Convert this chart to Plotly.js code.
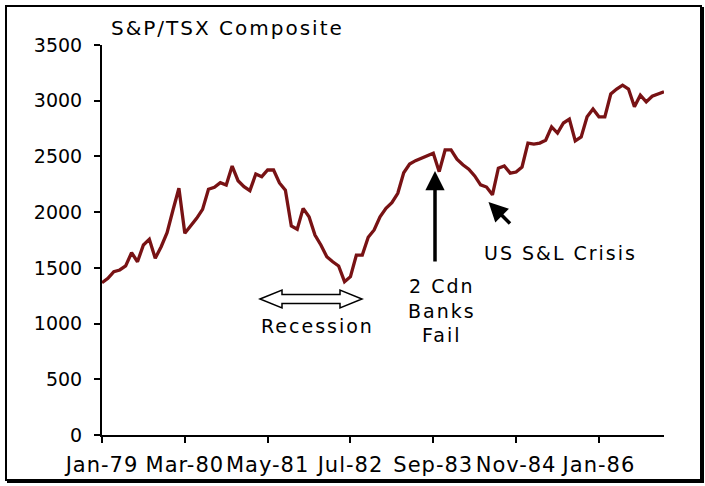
<!DOCTYPE html>
<html>
<head>
<meta charset="utf-8">
<script src="https://cdn.plot.ly/plotly-3.0.1.min.js"></script>
<style>
  html, body { margin: 0; padding: 0; background: #fff; }
  #wrap { position: relative; width: 705px; height: 486px; }
  #chart { width: 705px; height: 486px; }
  #frame { position: absolute; left: 5px; top: 5px; width: 693px; height: 472px;
           border: 2px solid #000; box-shadow: 2px 2px 0 #000; pointer-events: none; }
  .annotation-text { letter-spacing: 2px; }
  .xtick text { letter-spacing: 1px; }
</style>
</head>
<body>
<div id="wrap">
  <div id="chart"></div>
  <div id="frame"></div>
</div>
<script>
// Monthly S&P/TSX Composite, Jan-79 .. Dec-86
const tsxValues = [
  1367,1406,1466,1481,1517,1636,1555,1705,1756,1586,1690,1816,
  2019,2214,1810,1876,1944,2025,2205,2223,2265,2244,2414,2282,
  2229,2193,2342,2318,2378,2378,2262,2196,1876,1846,2034,1959,
  1795,1705,1600,1555,1517,1376,1421,1615,1615,1774,1840,1959,
  2034,2085,2169,2354,2432,2462,2483,2504,2528,2363,2558,2558,
  2475,2425,2385,2325,2245,2225,2155,2395,2415,2350,2360,2405,
  2620,2610,2620,2645,2765,2710,2800,2835,2640,2675,2855,2925,
  2855,2855,3060,3105,3140,3105,2945,3050,2990,3040,3060,3080
];
const tickPositions = [0, 14, 28, 42, 56, 70, 84];
const tickLabels = ["Jan-79", "Mar-80", "May-81", "Jul-82", "Sep-83", "Nov-84", "Jan-86"];
const yTicks = [0, 500, 1000, 1500, 2000, 2500, 3000, 3500];

const monthIndex = tsxValues.map((_, i) => i);

// plot-area geometry (pixels) for placing annotations
const W = 705, H = 486;
const M = { l: 102, r: 41, t: 45, b: 51 };
const PW = W - M.l - M.r, PH = H - M.t - M.b;
const px = x => (x - M.l) / PW;
const py = y => (H - M.b - y) / PH;

const font = 'DejaVu Sans, Verdana, sans-serif';

const trace = {
  x: monthIndex,
  y: tsxValues,
  type: 'scatter',
  mode: 'lines',
  line: { color: '#781214', width: 3.3 },
  hoverinfo: 'skip'
};

// hollow double-headed arrow (Recession)
const cy = 299;
const pts = [[260, cy], [282, cy - 9], [282, cy - 4.5], [340, cy - 4.5], [340, cy - 9], [362, cy],
             [340, cy + 9], [340, cy + 4.5], [282, cy + 4.5], [282, cy + 9]];
const path = 'M' + pts.map(p => px(p[0]) + ',' + py(p[1])).join('L') + 'Z';

const layout = {
  width: W, height: H,
  margin: M,
  paper_bgcolor: '#fff', plot_bgcolor: '#fff',
  showlegend: false,
  font: { family: font, size: 19, color: '#000' },
  xaxis: {
    range: [0, 95],
    tickvals: tickPositions, ticktext: tickLabels,
    showline: true, linecolor: '#000', linewidth: 2,
    ticks: 'outside', ticklen: 6, tickwidth: 2, tickcolor: '#000',
    ticklabelstandoff: 4,
    showgrid: false, zeroline: false, fixedrange: true,
    tickfont: { family: font, size: 21, color: '#000' }
  },
  yaxis: {
    range: [0, 3500],
    tickvals: yTicks,
    showline: true, linecolor: '#000', linewidth: 2,
    ticks: 'outside', ticklen: 6, tickwidth: 2, tickcolor: '#000',
    ticklabelstandoff: 8,
    showgrid: false, zeroline: false, fixedrange: true,
    tickfont: { family: font, size: 19, color: '#000' }
  },
  shapes: [
    { type: 'path', xref: 'paper', yref: 'paper', path: path,
      line: { color: '#000', width: 1.5 }, fillcolor: '#fff' }
  ],
  annotations: [
    { xref: 'paper', yref: 'paper', x: px(109), y: py(28), xanchor: 'left', yanchor: 'middle',
      text: 'S&P/TSX Composite', showarrow: false, font: { family: font, size: 20 } },
    { xref: 'paper', yref: 'paper', x: px(317), y: py(326), xanchor: 'center', yanchor: 'middle',
      text: 'Recession', showarrow: false, font: { family: font, size: 19 } },
    { xref: 'paper', yref: 'paper', x: px(442), y: py(310), xanchor: 'center', yanchor: 'middle',
      text: '2 Cdn<br>Banks<br>Fail', showarrow: false, align: 'center',
      font: { family: font, size: 19 } },
    { xref: 'paper', yref: 'paper', x: px(482), y: py(253), xanchor: 'left', yanchor: 'middle',
      text: 'US S&L Crisis', showarrow: false, font: { family: font, size: 19 } },
    // vertical arrow: 2 Cdn Banks Fail
    { xref: 'paper', yref: 'paper', x: px(435), y: py(171), axref: 'pixel', ayref: 'pixel',
      ax: 0, ay: 92, text: '', showarrow: true, arrowhead: 2, arrowsize: 1.1,
      arrowwidth: 3.5, arrowcolor: '#000', standoff: 0 },
    // diagonal arrow: US S&L Crisis
    { xref: 'paper', yref: 'paper', x: px(488.5), y: py(202), ax: 23, ay: 23,
      text: '', showarrow: true, arrowhead: 2, arrowsize: 1.1,
      arrowwidth: 3.5, arrowcolor: '#000', standoff: 0 }
  ]
};

Plotly.newPlot('chart', [trace], layout, { staticPlot: true, displayModeBar: false });
</script>
</body>
</html>
